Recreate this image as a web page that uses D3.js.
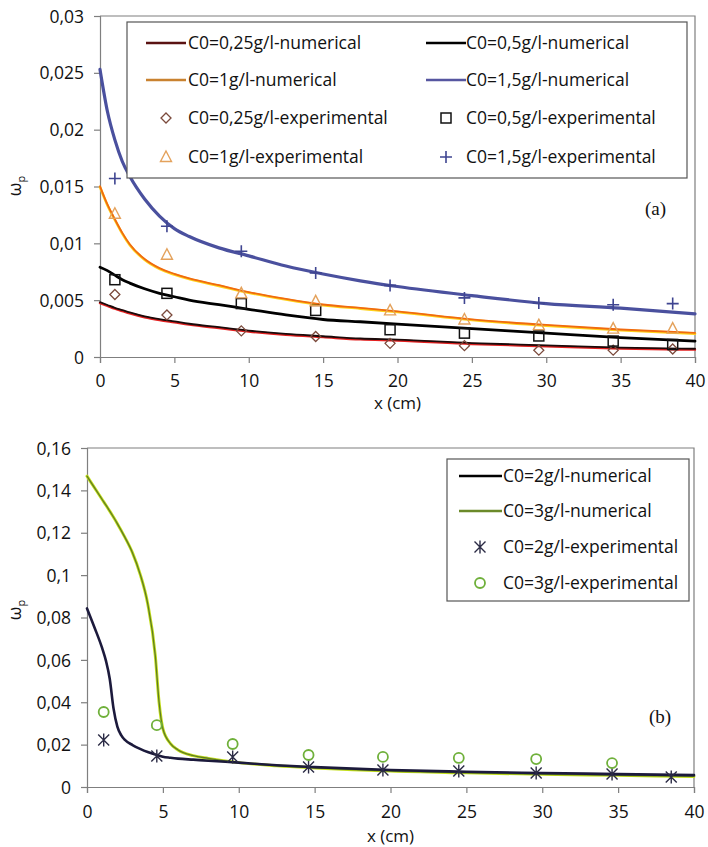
<!DOCTYPE html>
<html><head><meta charset="utf-8">
<script src="https://cdn.jsdelivr.net/npm/d3@7"></script>
<style>
html,body{margin:0;padding:0;background:#fff;}
svg{display:block;font-family:"Open Sans",sans-serif;}
</style></head>
<body><svg id="c" width="708" height="847"></svg>
<script>
// ---------- DATA ----------
// Panel (a)
const xNumA = [0,0.5,1,1.5,2,3,4,5,6,8,10,12.5,15,17.5,20,25,30,35,40];
const num025 = [0.0048,0.00455,0.0043,0.0041,0.0039,0.00355,0.0033,0.0031,0.0029,0.0026,0.0023,0.0020,0.0018,0.0016,0.0015,0.0012,0.0010,0.0008,0.0007];
const num05  = [0.0079,0.0076,0.0072,0.0068,0.0065,0.0060,0.0056,0.0053,0.0050,0.0046,0.0042,0.0037,0.0033,0.0031,0.0029,0.0025,0.0021,0.0017,0.0014];
const num1   = [0.0150,0.0134,0.0121,0.0109,0.0099,0.0086,0.0078,0.0073,0.0069,0.0063,0.0057,0.0051,0.0046,0.0043,0.0040,0.0033,0.0028,0.0024,0.0021];
const num15  = [0.0253,0.0216,0.0191,0.0172,0.0159,0.0139,0.0124,0.0113,0.0106,0.0096,0.0089,0.0080,0.0073,0.0067,0.0062,0.0054,0.0047,0.0043,0.0038];
const xExpA = [1,4.5,9.5,14.5,19.5,24.5,29.5,34.5,38.5];
const exp025 = [0.0055,0.0037,0.0023,0.0018,0.0012,0.0010,0.0006,0.0006,0.0007];
const exp05  = [0.0068,0.0056,0.0047,0.0041,0.0024,0.0021,0.00185,0.0014,0.0011];
const exp1   = [0.0126,0.0090,0.0056,0.0049,0.0041,0.0033,0.0028,0.0025,0.0025];
const exp15  = [0.0157,0.0115,0.0093,0.0074,0.0063,0.0052,0.00475,0.0046,0.0047];
const yTicksA = [0,0.005,0.01,0.015,0.02,0.025,0.03];
const yLabelsA = ["0","0,005","0,01","0,015","0,02","0,025","0,03"];
const xTicks = [0,5,10,15,20,25,30,35,40];
const xLabels = ["0","5","10","15","20","25","30","35","40"];
const legendA = ["C0=0,25g/l-numerical","C0=0,5g/l-numerical","C0=1g/l-numerical","C0=1,5g/l-numerical",
                 "C0=0,25g/l-experimental","C0=0,5g/l-experimental","C0=1g/l-experimental","C0=1,5g/l-experimental"];
// Panel (b)
const xNumB = [0,0.5,1,1.25,1.5,1.75,2,2.25,2.5,3,3.5,4,4.5,4.75,5,5.5,6,7,8,10,12.5,15,20,25,30,35,40];
const num2 = [0.0843,0.0752,0.0655,0.0595,0.051,0.037,0.0285,0.0245,0.0222,0.0198,0.018,0.0165,0.0153,0.0148,0.0143,0.0138,0.0134,0.0129,0.0124,0.0115,0.0103,0.0094,0.0080,0.0072,0.0066,0.0061,0.0056];
const num3 = [0.1467,0.1412,0.1357,0.133,0.1302,0.1273,0.1243,0.1211,0.1178,0.1105,0.1005,0.0865,0.062,0.040,0.0275,0.0205,0.0175,0.0148,0.0135,0.0115,0.0100,0.0090,0.0075,0.0067,0.0060,0.0055,0.0050];
const xExpB = [1.1,4.6,9.6,14.6,19.5,24.5,29.6,34.6,38.5];
const exp2 = [0.0222,0.0146,0.0142,0.0094,0.0080,0.0076,0.0066,0.0061,0.0047];
const exp3 = [0.0354,0.0292,0.0203,0.0151,0.0142,0.0137,0.0132,0.0113];
const yTicksB = [0,0.02,0.04,0.06,0.08,0.1,0.12,0.14,0.16];
const yLabelsB = ["0","0,02","0,04","0,06","0,08","0,1","0,12","0,14","0,16"];
const legendB = ["C0=2g/l-numerical","C0=3g/l-numerical","C0=2g/l-experimental","C0=3g/l-experimental"];

// ---------- DRAW ----------
const svg = d3.select("#c");
const FS_TICK = 17.5, FS_LEG = 17.5, FS_TITLE = 17;
const FONT = "'Open Sans',sans-serif";
const AX = "#7f7f7f";

function zip(xs, ys){ return ys.map((v,i)=>[xs[i],v]); }

function marker(g, type, cx, cy){
  const s = 5;
  if(type==="diamond"){
    g.append("path").attr("d",`M${cx},${cy-s}L${cx+s},${cy}L${cx},${cy+s}L${cx-s},${cy}Z`)
     .attr("fill","none").attr("stroke","#7b4a3c").attr("stroke-width",1.3);
  } else if(type==="square"){
    g.append("rect").attr("x",cx-s).attr("y",cy-s).attr("width",2*s).attr("height",2*s)
     .attr("fill","none").attr("stroke","#111").attr("stroke-width",1.5);
  } else if(type==="triangle"){
    g.append("path").attr("d",`M${cx},${cy-s-1}L${cx+s+0.5},${cy+s-0.5}L${cx-s-0.5},${cy+s-0.5}Z`)
     .attr("fill","none").attr("stroke","#e4a25c").attr("stroke-width",1.4);
  } else if(type==="plus"){
    g.append("path").attr("d",`M${cx-s-1},${cy}H${cx+s+1}M${cx},${cy-s-1}V${cy+s+1}`)
     .attr("stroke","#3f4591").attr("stroke-width",1.6);
  } else if(type==="star"){
    const r=s+0.5;
    g.append("path").attr("d",`M${cx-r},${cy-r}L${cx+r},${cy+r}M${cx-r},${cy+r}L${cx+r},${cy-r}M${cx},${cy-r-1}V${cy+r+1}`)
     .attr("stroke","#2b2b45").attr("stroke-width",1.4);
  } else if(type==="circle"){
    g.append("circle").attr("cx",cx).attr("cy",cy).attr("r",s)
     .attr("fill","none").attr("stroke","#6fb03a").attr("stroke-width",1.8);
  }
}

function panel(opt){
  const x = d3.scaleLinear().domain([0,40]).range([opt.x0,opt.x1]);
  const y = d3.scaleLinear().domain([0,opt.ymax]).range([opt.y0,opt.y1]);
  const g = svg.append("g");
  g.append("path").attr("d",`M${opt.x0},${opt.y1}H${opt.x1}V${opt.y0}`)
   .attr("fill","none").attr("stroke",AX).attr("stroke-width",1.2);
  const ya = d3.axisLeft(y).tickValues(opt.yTicks).tickSize(6).tickFormat((d,i)=>opt.yLabels[i]);
  const ga = g.append("g").attr("transform",`translate(${opt.x0},0)`).call(ya);
  const xa = d3.axisBottom(x).tickValues(xTicks).tickSize(6).tickFormat((d,i)=>xLabels[i]);
  const gb = g.append("g").attr("transform",`translate(0,${opt.y0})`).call(xa);
  [ga,gb].forEach(a=>{
    a.select(".domain").attr("stroke",AX).attr("stroke-width",1.2);
    a.selectAll(".tick line").attr("stroke",AX).attr("stroke-width",1.2);
    a.selectAll("text").attr("font-size",FS_TICK).attr("fill","#111").attr("font-family",FONT);
  });
  ga.selectAll("text").attr("x",-(opt.x0-opt.ylabRight)).attr("dy","0.35em");
  gb.selectAll("text").attr("y",opt.xtickY-opt.y0).attr("dy",0);
  g.append("text").attr("x",x(20)).attr("y",opt.xtitleY).attr("text-anchor","middle")
   .attr("font-size",FS_TITLE).attr("fill","#111").text("x (cm)");
  const yt = g.append("text").attr("transform",`translate(${opt.ytX},${opt.ytY}) rotate(-90)`)
   .attr("text-anchor","middle").attr("font-size",FS_TICK).attr("fill","#111");
  yt.append("tspan").text("ω");
  yt.append("tspan").attr("font-size",11).attr("dy",4).text("p");
  g.append("text").attr("x",opt.labX).attr("y",opt.labY).attr("font-family","'Liberation Serif','DejaVu Serif',serif")
   .attr("font-size",19).attr("fill","#111").text(opt.label);
  return {g,x,y};
}

function drawLine(P, line, xs, ys, layers){
  layers.forEach(l=>{
    P.g.append("path").datum(zip(xs,ys)).attr("d",line).attr("fill","none")
     .attr("stroke",l[0]).attr("stroke-width",l[1]).attr("stroke-linejoin","round").attr("stroke-linecap","round")
     .attr("transform",l[2]?`translate(0,${l[2]})`:null);
  });
}

// ---- Panel (a)
const A = panel({x0:100,x1:695,y0:357,y1:16,ymax:0.03,yTicks:yTicksA,yLabels:yLabelsA,ylabRight:84,
  xtickY:387,xtitleY:409,ytX:21,ytY:186,labX:645,labY:215,label:"(a)"});
const lineA = d3.line().x(d=>A.x(d[0])).y(d=>A.y(d[1])).curve(d3.curveMonotoneX);
drawLine(A,lineA,xNumA,num05,[["#000",2.8]]);
drawLine(A,lineA,xNumA,num025,[["#e32020",2.4,0.6],["#1a0a0a",1.8,-0.3]]);
drawLine(A,lineA,xNumA,num1,[["#ffd21a",2.6,0.5],["#f06a10",1.8,-0.2]]);
drawLine(A,lineA,xNumA,num15,[["#4a509e",3.2]]);
[[exp025,"diamond"],[exp05,"square"],[exp1,"triangle"],[exp15,"plus"]].forEach(([ys,t])=>{
  ys.forEach((v,i)=>marker(A.g,t,A.x(xExpA[i]),A.y(v)));
});
const LA = A.g.append("g");
LA.append("rect").attr("x",127).attr("y",22).attr("width",560).attr("height",156)
  .attr("fill","#fff").attr("stroke","#555").attr("stroke-width",1.2);
const rowsA=[43,80,118,157], colLine=[146,426], colText=[188,466], colMk=[166,446];
const legLineStyA=[["#5a1212",2.6],["#000",2.6],["#c98230",2.6],["#5656a0",2.6]];
const mkA=["diamond","square","triangle","plus"];
legendA.forEach((t,i)=>{
  const r=rowsA[Math.floor(i/2)], c=i%2;
  if(i<4){
    LA.append("line").attr("x1",colLine[c]).attr("x2",colLine[c]+40).attr("y1",r).attr("y2",r)
      .attr("stroke",legLineStyA[i][0]).attr("stroke-width",legLineStyA[i][1]);
  } else {
    marker(LA,mkA[i-4],colMk[c],r);
  }
  LA.append("text").attr("x",colText[c]).attr("y",r).attr("dy","0.35em").attr("font-size",FS_LEG)
    .attr("fill","#111").text(t);
});

// ---- Panel (b)
const B = panel({x0:87,x1:694,y0:787,y1:448,ymax:0.16,yTicks:yTicksB,yLabels:yLabelsB,ylabRight:71,
  xtickY:818,xtitleY:842,ytX:21,ytY:610,labX:649,labY:723,label:"(b)"});
const lineB = d3.line().x(d=>B.x(d[0])).y(d=>B.y(d[1])).curve(d3.curveMonotoneX);
drawLine(B,lineB,xNumB,num3,[["#c4df1c",3],["#5f7d22",1.3]]);
drawLine(B,lineB,xNumB,num2,[["#1c1a3c",2.6]]);
exp2.forEach((v,i)=>marker(B.g,"star",B.x(xExpB[i]),B.y(v)));
exp3.forEach((v,i)=>marker(B.g,"circle",B.x(xExpB[i]),B.y(v)));
const LB = B.g.append("g");
LB.append("rect").attr("x",447).attr("y",459).attr("width",242).attr("height",142)
  .attr("fill","#fff").attr("stroke","#555").attr("stroke-width",1.2);
const rowsB=[476,511,547,583];
legendB.forEach((t,i)=>{
  const r=rowsB[i];
  if(i===0) LB.append("line").attr("x1",459).attr("x2",502).attr("y1",r).attr("y2",r).attr("stroke","#000").attr("stroke-width",2.6);
  if(i===1) LB.append("line").attr("x1",459).attr("x2",502).attr("y1",r).attr("y2",r).attr("stroke","#6b8a2a").attr("stroke-width",2.6);
  if(i===2) marker(LB,"star",480,r);
  if(i===3) marker(LB,"circle",480,r);
  LB.append("text").attr("x",503).attr("y",r).attr("dy","0.35em").attr("font-size",FS_LEG)
    .attr("fill","#111").text(t);
});
</script>
</body></html>
